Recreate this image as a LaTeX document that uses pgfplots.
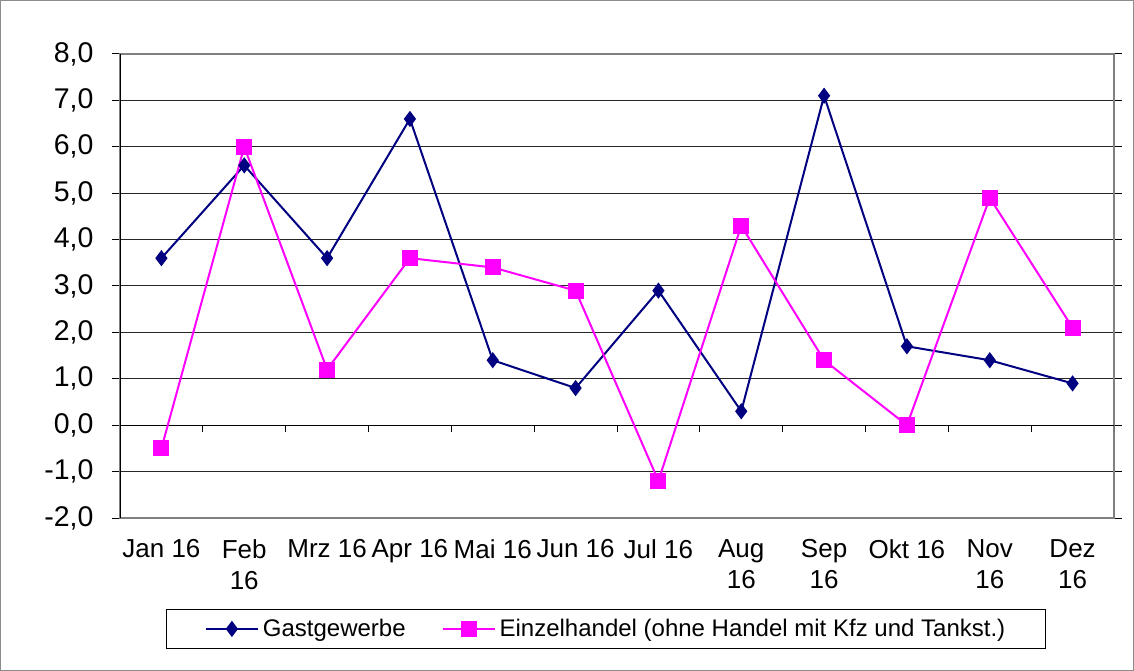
\documentclass[border=0pt]{standalone}
\usepackage{fontspec}
\setmainfont{Liberation Sans}
\usepackage{pgfplots}
\pgfplotsset{compat=1.18}
\definecolor{navy}{RGB}{0,0,128}
\definecolor{mag}{RGB}{255,0,255}
\begin{document}
\begin{tikzpicture}
\useasboundingbox (0,0) rectangle (1134bp,671bp);
\draw[black!45, line width=1bp] (0.5bp,0.5bp) rectangle (1133.5bp,670.5bp);
\begin{axis}[
  at={(120bp,153bp)}, anchor=south west,
  scale only axis, width=994bp, height=464bp,
  xmin=-0.5, xmax=11.5, ymin=-2, ymax=8,
  xtick={0,...,11},
  xticklabels={Jan 16,Feb\\16,Mrz 16,Apr 16,Mai 16,Jun 16,Jul 16,Aug\\16,Sep\\16,Okt 16,Nov\\16,Dez\\16},
  x tick style={draw=none},
  xticklabel style={align=center, font=\fontsize{26bp}{31bp}\selectfont, anchor=north, yshift=-10bp},
  ytick={-2,...,8},
  y tick style={black, line width=1bp},
  tick align=outside, major tick length=8bp,
  yticklabel style={font=\fontsize{28.5bp}{33bp}\selectfont, xshift=-15bp},
  /pgf/number format/.cd, fixed, fixed zerofill, precision=1, use comma, assume math mode=true,
  /pgfplots/.cd,
  ymajorgrids, major grid style={black!85, line width=1bp},
  axis line style={draw=black!50, line width=1.3bp},
  legend columns=2,
  legend style={at={(axis description cs:0.489,-0.239)}, anchor=center, draw=black, line width=1bp,
    font=\fontsize{24bp}{28bp}\selectfont, inner xsep=38bp, inner ysep=8bp,
    /tikz/every odd column/.append style={column sep=2bp},
    /tikz/every even column/.append style={column sep=34bp}},
  legend image code/.code={\draw[mark repeat=2,mark phase=2] plot coordinates {(0bp,0bp)(26bp,0bp)(52bp,0bp)};},
]
\draw[black, line width=1bp] (axis cs:-0.5,0) -- (axis cs:11.5,0);
\pgfplotsinvokeforeach{0.5,1.5,2.5,3.5,4.5,5.5,6.5,7.5,8.5,9.5,10.5,11.5}{\draw[black, line width=1bp] (axis cs:#1,0) -- ([yshift=-7bp]axis cs:#1,0);}
\draw[black, line width=1.6bp] (axis cs:-0.5,-2) -- (axis cs:-0.5,8);
\addplot[navy, line width=2bp, mark=diamond*, mark size=6.5bp, mark options={solid}] coordinates {
(0,3.6)(1,5.6)(2,3.6)(3,6.6)(4,1.4)(5,0.8)(6,2.9)(7,0.3)(8,7.1)(9,1.7)(10,1.4)(11,0.9)};
\addlegendentry{Gastgewerbe}
\addplot[mag, line width=2bp, mark=square*, mark size=7bp, mark options={solid}] coordinates {
(0,-0.5)(1,6.0)(2,1.2)(3,3.6)(4,3.4)(5,2.9)(6,-1.2)(7,4.3)(8,1.4)(9,0.0)(10,4.9)(11,2.1)};
\addlegendentry{Einzelhandel (ohne Handel mit Kfz und Tankst.)}
\end{axis}
\end{tikzpicture}
\end{document}
